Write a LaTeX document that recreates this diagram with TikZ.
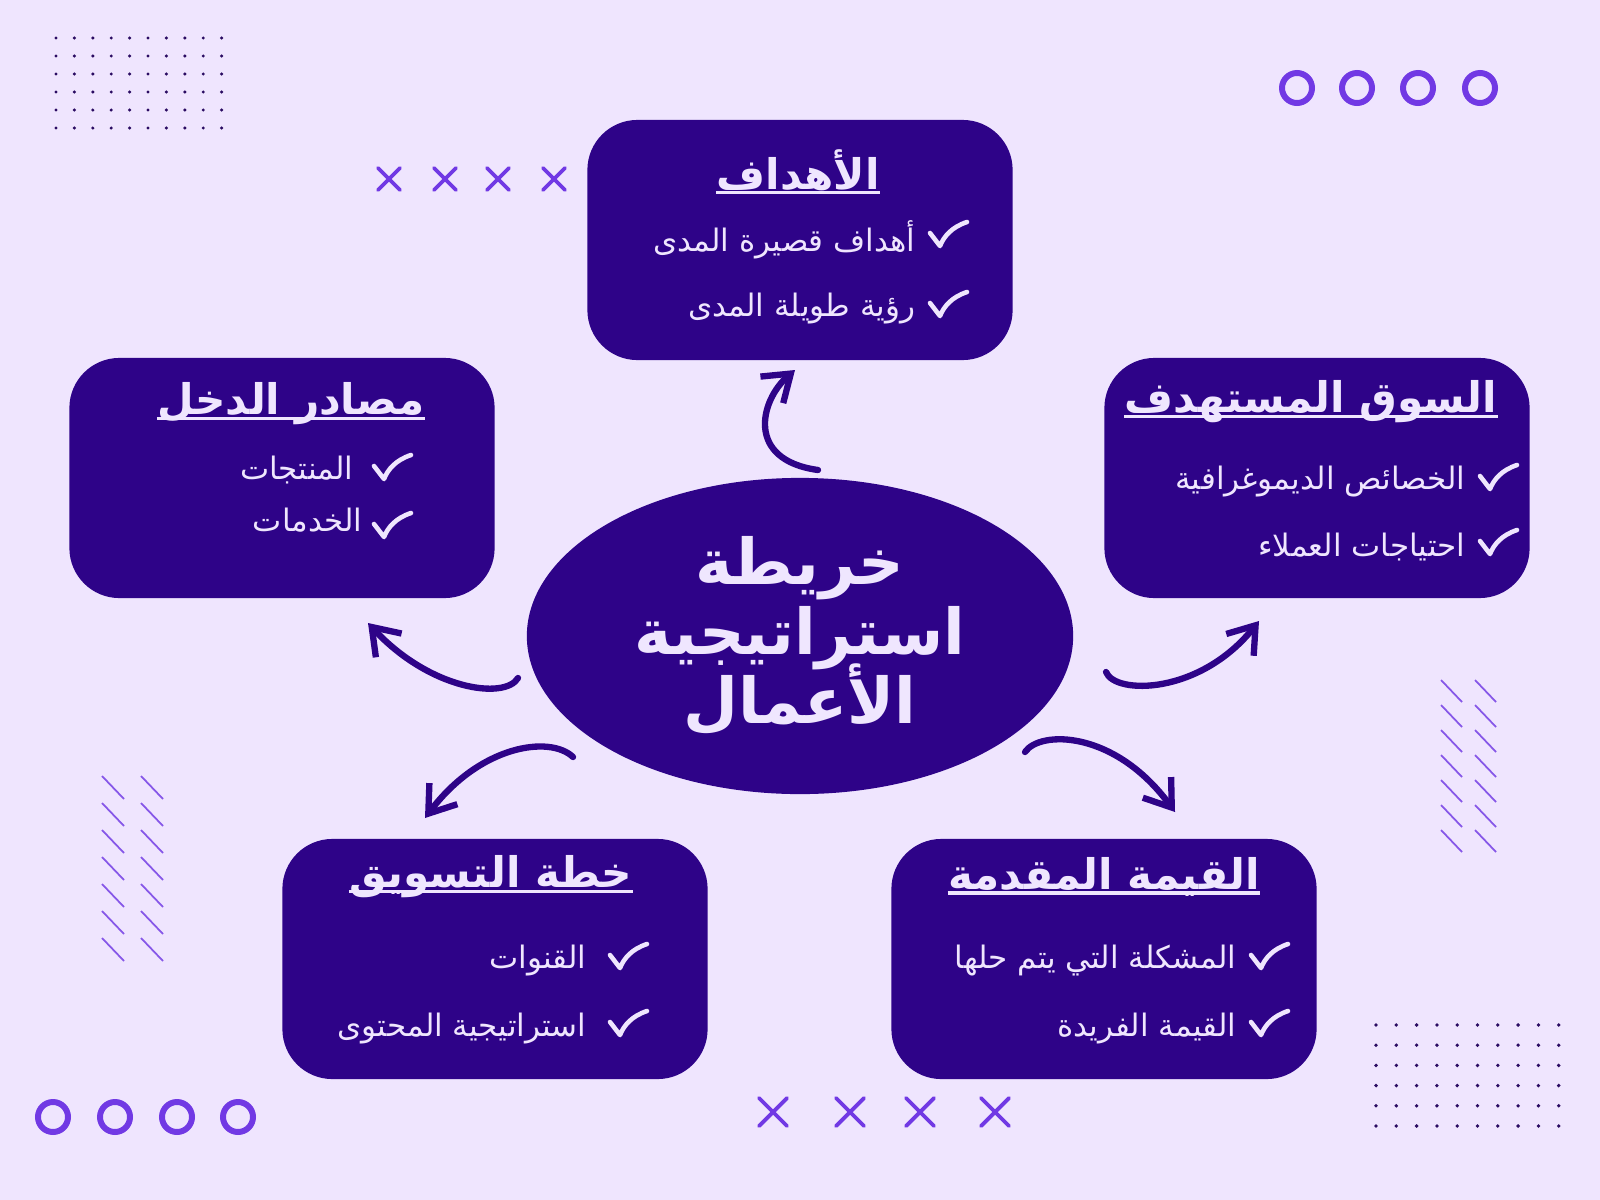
\documentclass[tikz,border=0pt]{standalone}
\usepackage{fontspec}
\usetikzlibrary{positioning,shapes.geometric,arrows.meta,calc}
\newfontfamily\arabicfont[Script=Arabic]{DejaVu Sans}
\TeXXeTstate=1
\newcommand{\tightlines}{\setlength{\lineskiplimit}{-20pt}}

\definecolor{bgcol}{HTML}{EFE5FE}
\definecolor{boxcol}{HTML}{2E0388}
\definecolor{lightcol}{HTML}{EFE6FE}
\definecolor{accent}{HTML}{7139E4}
\definecolor{dotcol}{HTML}{2A0B62}

\tikzset{
  card/.style={rectangle, rounded corners=0.5cm, fill=boxcol, minimum width=4.25cm, minimum height=2.4cm, inner sep=0},
  hub/.style={ellipse, fill=boxcol, minimum width=5.46cm, minimum height=3.16cm, inner sep=0, text=lightcol, align=center, font=\arabicfont\bfseries\fontsize{18}{19.8}\selectfont\tightlines},
  head/.style={text=lightcol, inner sep=0, font=\arabicfont\bfseries\fontsize{12}{14}\selectfont},
  item/.style={text=lightcol, inner sep=0, anchor=east, font=\arabicfont\fontsize{8.8}{10}\selectfont},
  underl/.style={lightcol, line width=0.9pt},
  tickline/.style={lightcol, line width=1.3pt, line cap=round, line join=round},
  curvy/.style={boxcol, line width=1.8pt, line cap=round, -{Straight Barb[length=2.5mm,width=3.5mm]}},
  ring/.style={accent, line width=1.7pt},
  cross/.style={accent, line width=1.1pt, line cap=round},
  slash/.style={accent!85!white, line width=0.5pt},
}
\newcommand{\tickat}[2]{\draw[tickline, shift={(#1,#2)}] (0,0) -- (10,13) .. controls (14,3) and (22,-6) .. (37,-11);}

\begin{document}
\begin{tikzpicture}[x=0.01cm, y=-0.01cm]
    % background
    \fill[bgcol] (0,0) rectangle (1600,1200);

    % dot grids
    \foreach \i in {0,...,9} {
        \foreach \j in {0,...,5} {
            \fill[dotcol] ({56+18.4*\i},{38+18*\j}) circle (1.7);
            \fill[dotcol] ({1376+20.3*\i},{1025+20.2*\j}) circle (1.9);
        }
    }
    % rings
    \foreach \x/\y in {1297/88, 1357/88, 1418/88, 1480/88, 53/1117, 115/1117, 177/1117, 238/1117} {
        \draw[ring] (\x,\y) circle (15);
    }
    % crosses
    \foreach \x/\y/\s in {389/179/11, 445/179/11, 498/179/11, 554/179/11, 773/1112/14, 850/1112/14, 920/1112/14, 995/1112/14} {
        \draw[cross] (\x-\s,\y-\s) -- (\x+\s,\y+\s) (\x-\s,\y+\s) -- (\x+\s,\y-\s);
    }
    % slashes
    \foreach \r in {0,...,6} {
        \draw[slash] (1441,{680+25*\r}) -- ++(21,22);
        \draw[slash] (1475,{680+25*\r}) -- ++(21,22);
        \draw[slash] (102,{776+27*\r}) -- ++(22,23);
        \draw[slash] (141,{776+27*\r}) -- ++(22,23);
    }

    % cards
    \node[card] (goals) at (800,240) {};
    \node[card] (market) at (1317,478) {};
    \node[card] (income) at (282,478) {};
    \node[card] (plan) at (495,959) {};
    \node[card] (value) at (1104,959) {};

    % hub
    \node[hub] (hub) at (800,636) {{\beginR خريطة\endR}\\{\beginR استراتيجية\endR}\\{\beginR الأعمال\endR}};

    % headings
    \node[head] (goalsHead) at (798,170) {\beginR الأهداف\endR};
    \node[head] (marketHead) at (1311,402) {\beginR السوق المستهدف\endR};
    \node[head] (incomeHead) at (291,404) {\beginR مصادر الدخل\endR};
    \node[head] (planHead) at (491,877) {\beginR خطة التسويق\endR};
    \node[head] (valueHead) at (1104,877) {\beginR القيمة المقدمة\endR};
    \foreach \n in {goalsHead, marketHead, incomeHead, planHead, valueHead} {
        \draw[underl] ([yshift=-1pt]\n.base west) -- ([yshift=-1pt]\n.base east);
    }

    % items
    \node[item] (goalsA) at (916,240) {\beginR أهداف قصيرة المدى\endR};
    \node[item] (goalsB) at (916,309) {\beginR رؤية طويلة المدى\endR};
    \node[item] (marketA) at (1466,482) {\beginR الخصائص الديموغرافية\endR};
    \node[item] (marketB) at (1466,547) {\beginR احتياجات العملاء\endR};
    \node[item] (incomeA) at (354,470) {\beginR المنتجات\endR};
    \node[item] (incomeB) at (363,520) {\beginR الخدمات\endR};
    \node[item] (planA) at (587,961) {\beginR القنوات\endR};
    \node[item] (planB) at (587,1029) {\beginR استراتيجية المحتوى\endR};
    \node[item] (valueA) at (1237,961) {\beginR المشكلة التي يتم حلها\endR};
    \node[item] (valueB) at (1237,1029) {\beginR القيمة الفريدة\endR};

    % ticks
    \tickat{930}{233} \tickat{930}{303}
    \tickat{1480}{476} \tickat{1480}{541}
    \tickat{374}{466} \tickat{374}{524}
    \tickat{610}{955} \tickat{610}{1022}
    \tickat{1251}{955} \tickat{1251}{1022}

    % arrows
    \coordinate (goalsTail) at (818,470);
    \coordinate (goalsTip) at (795,370);
    \coordinate (incomeTail) at (518,678);
    \coordinate (incomeTip) at (368,623);
    \coordinate (planTail) at (573,757);
    \coordinate (planTip) at (425,818);
    \coordinate (marketTail) at (1106,672);
    \coordinate (marketTip) at (1259,621);
    \coordinate (valueTail) at (1025,752);
    \coordinate (valueTip) at (1175,812);
    \draw[curvy] (goalsTail) .. controls (745,460) and (760,400) .. (goalsTip);
    \draw[curvy] (incomeTail) .. controls (505,700) and (430,690) .. (incomeTip);
    \draw[curvy] (planTail) .. controls (550,735) and (480,745) .. (planTip);
    \draw[curvy] (marketTail) .. controls (1115,695) and (1200,695) .. (marketTip);
    \draw[curvy] (valueTail) .. controls (1040,730) and (1115,730) .. (valueTip);
\end{tikzpicture}
\end{document}
